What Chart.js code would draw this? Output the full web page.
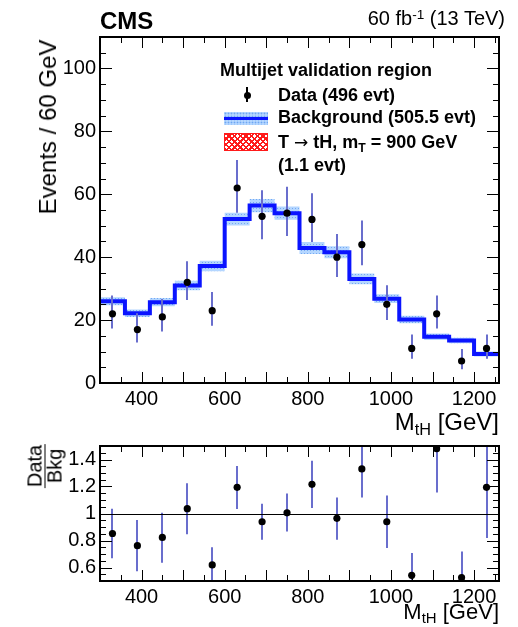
<!DOCTYPE html>
<html>
<head>
<meta charset="utf-8">
<script src="https://cdn.jsdelivr.net/npm/chart.js@4/dist/chart.umd.min.js"></script>
<style>
    body { margin: 0; background: #fff; }
    #wrap { position: relative; width: 518px; height: 627px; font-family: "Liberation Sans", Arial, Helvetica, sans-serif; color: #000; }
    canvas { position: absolute; left: 0; }
    .txt { position: absolute; white-space: nowrap; }
    .sub { font-size: 0.68em; position: relative; top: 0.3em; }
    .sup { font-size: 0.68em; position: relative; top: -0.45em; }
    .leg { position: absolute; left: 278px; font-weight: bold; font-size: 18px; line-height: 18px; white-space: nowrap; }
    .arrow { font-family: "DejaVu Sans", sans-serif; font-weight: normal; font-size: 17px; }
</style>
</head>
<body>
<div id="wrap">
    <canvas id="main" width="518" height="410" style="top:0"></canvas>
    <canvas id="ratio" width="518" height="180" style="top:430px"></canvas>

    <div class="txt" style="left:100px; top:9px; font-size:24px; line-height:24px; font-weight:bold;">CMS</div>
    <div class="txt" style="right:13px; top:8px; font-size:20px; line-height:20px;">60 fb<span class="sup">-1</span> (13 TeV)</div>

    <div class="txt" style="left:48px; top:127px; font-size:24px; line-height:24px; transform: translate(-50%,-50%) rotate(-90deg);">Events / 60 GeV</div>
    <div class="txt" style="right:19px; top:410px; font-size:24px; line-height:24px;">M<span class="sub">tH</span> [GeV]</div>

    <div class="txt" style="left:45px; top:466px; font-size:20px; line-height:17px; text-align:center; transform: translate(-50%,-50%) rotate(-90deg);">
        <div style="border-bottom:1.5px solid #000; padding:0 1px 1px 1px;">Data</div>
        <div style="padding-top:1px;">Bkg</div>
    </div>
    <div class="txt" style="right:19px; top:601px; font-size:22px; line-height:22px;">M<span class="sub">tH</span> [GeV]</div>

    <!-- legend -->
    <div class="leg" style="left:220px; top:61px;">Multijet validation region</div>
    <div style="position:absolute; left:246px; top:87px; width:2px; height:15px; background:#000;"></div>
    <div style="position:absolute; left:243.5px; top:91.5px; width:7px; height:7px; border-radius:50%; background:#000;"></div>
    <div class="leg" style="top:86px;">Data (496 evt)</div>
    <div style="position:absolute; left:224px; top:112px; width:44px; height:13px; background-color:#b4d6ff; background-image: radial-gradient(circle, #6fa6f2 0.8px, transparent 1.1px); background-size:3px 3px;"></div>
    <div style="position:absolute; left:224px; top:117px; width:44px; height:3px; background:#0a14ff;"></div>
    <div class="leg" style="top:108px;">Background (505.5 evt)</div>
    <div style="position:absolute; left:224px; top:133px; width:42px; height:16px; border:1px solid #ff1a1a; background-color:#fff; background-image: repeating-linear-gradient(45deg, #ff1a1a 0 1.6px, transparent 1.6px 4px), repeating-linear-gradient(-45deg, #ff1a1a 0 1.6px, transparent 1.6px 4px);"></div>
    <div class="leg" style="top:133px;">T <span class="arrow">&rarr;</span> tH, m<span class="sub">T</span> = 900 GeV</div>
    <div class="leg" style="top:156px;">(1.1 evt)</div>
</div>

<script>
// bins of 60 GeV, left edges
const binEdges = [300, 360, 420, 480, 540, 600, 660, 720, 780, 840, 900, 960, 1020, 1080, 1140, 1200, 1260];
const binCenters = [330, 390, 450, 510, 570, 630, 690, 750, 810, 870, 930, 990, 1050, 1110, 1170, 1230];

// observed events and their (asymmetric) errors
const dataCounts = [22, 17, 21, 32, 23, 62, 53, 54, 52, 40, 44, 25, 11, 22, 7, 11];
const dataErrLow = [4.7, 4.1, 4.6, 5.6, 4.8, 7.9, 7.3, 7.3, 7.2, 6.3, 6.6, 5.0, 3.3, 4.7, 2.6, 3.3];
const dataErrHigh = [5.8, 5.2, 5.7, 6.7, 5.9, 8.9, 8.3, 8.4, 8.3, 7.4, 7.7, 6.1, 4.4, 5.8, 3.8, 4.4];

// background prediction and its uncertainty
const bkgValues = [26.0, 22.2, 25.7, 31.0, 37.2, 52.1, 56.4, 54.0, 42.9, 41.6, 33.1, 26.8, 20.2, 14.7, 13.5, 9.2];
const bkgUnc = [1.3, 1.2, 1.3, 1.5, 1.7, 2.0, 2.1, 2.1, 1.9, 1.9, 1.7, 1.4, 1.2, 1.0, 0.9, 0.8];

// data / background ratio
const ratioValues = [0.852, 0.762, 0.823, 1.036, 0.619, 1.194, 0.939, 1.005, 1.216, 0.964, 1.330, 0.939, 0.542, 1.48, 0.525, 1.194];
const ratioLow = [0.668, 0.573, 0.636, 0.847, 0.45, 1.034, 0.806, 0.867, 1.041, 0.806, 1.119, 0.745, 0.4, 1.155, 0.4, 0.818];
const ratioHigh = [1.036, 0.951, 1.005, 1.225, 0.75, 1.352, 1.073, 1.148, 1.39, 1.119, 1.6, 1.133, 0.707, 1.6, 0.719, 1.6];

// tick labels
const massTicks = [400, 600, 800, 1000, 1200];
const countTicks = [0, 20, 40, 60, 80, 100];
const ratioTicks = [0.6, 0.8, 1, 1.2, 1.4];

const FONT = '"Liberation Sans", Arial, Helvetica, sans-serif';
const errColor = 'rgb(105,110,205)';
const lineBlue = 'rgb(10,20,255)';

function stepPoints(vals) {
    const pts = vals.map((v, i) => ({ x: binEdges[i], y: v }));
    pts.push({ x: binEdges[binEdges.length - 1], y: vals[vals.length - 1] });
    return pts;
}

function bandPattern() {
    const c = document.createElement('canvas');
    c.width = 3; c.height = 3;
    const g = c.getContext('2d');
    g.fillStyle = '#b4d6ff';
    g.fillRect(0, 0, 3, 3);
    g.fillStyle = '#74a9f3';
    g.fillRect(1, 1, 1, 1);
    return g.createPattern(c, 'repeat');
}

// frame + inward ticks on all four sides, like ROOT
function frameTicks(xMinor, yMinor, yMajor, extra) {
    return {
        id: 'frameTicks',
        afterDraw(chart) {
            const { ctx, chartArea: a, scales } = chart;
            const xs = scales.x, ys = scales.y;
            ctx.save();
            ctx.strokeStyle = '#000';
            ctx.lineWidth = 1;
            ctx.beginPath();
            for (let v = Math.ceil(xs.min / xMinor) * xMinor; v <= xs.max; v += xMinor) {
                const px = Math.round(xs.getPixelForValue(v)) + 0.5;
                const len = v % 100 === 0 ? 11 : 6;
                ctx.moveTo(px, a.bottom); ctx.lineTo(px, a.bottom - len);
                ctx.moveTo(px, a.top); ctx.lineTo(px, a.top + len);
            }
            const n = Math.round((ys.max - ys.min) / yMinor);
            for (let i = 0; i <= n; i++) {
                const v = ys.min + i * yMinor;
                const py = Math.round(ys.getPixelForValue(v)) + 0.5;
                const isMajor = Math.abs(v / yMajor - Math.round(v / yMajor)) < 1e-6;
                const len = isMajor ? 12 : 6;
                ctx.moveTo(a.left, py); ctx.lineTo(a.left + len, py);
                ctx.moveTo(a.right, py); ctx.lineTo(a.right - len, py);
            }
            ctx.stroke();
            if (extra) extra(chart);
            ctx.lineWidth = 2;
            ctx.strokeRect(a.left, a.top, a.right - a.left, a.bottom - a.top);
            ctx.restore();
        }
    };
}

// vertical error bars drawn just before the point dataset
function errorBars(centers, lows, highs) {
    return {
        id: 'errorBars',
        beforeDatasetDraw(chart, args) {
            if (args.index !== 0) return;
            const { ctx, chartArea: a, scales } = chart;
            ctx.save();
            ctx.beginPath();
            ctx.rect(a.left, a.top, a.right - a.left, a.bottom - a.top);
            ctx.clip();
            ctx.strokeStyle = errColor;
            ctx.lineWidth = 2;
            ctx.beginPath();
            centers.forEach((c, i) => {
                const px = Math.round(scales.x.getPixelForValue(c));
                ctx.moveTo(px, scales.y.getPixelForValue(lows[i]));
                ctx.lineTo(px, scales.y.getPixelForValue(highs[i]));
            });
            ctx.stroke();
            ctx.restore();
        }
    };
}

function xScale(height) {
    return {
        type: 'linear',
        min: 300,
        max: 1260,
        grid: { display: false, drawTicks: false },
        border: { display: false },
        afterBuildTicks: s => { s.ticks = massTicks.map(v => ({ value: v })); },
        afterFit: s => { s.height = height; },
        ticks: { padding: 4, maxRotation: 0, color: '#000', font: { family: FONT, size: 20 }, callback: v => String(v) }
    };
}

Chart.defaults.animation = false;
Chart.defaults.responsive = false;

const pattern = bandPattern();

new Chart(document.getElementById('main'), {
    type: 'line',
    data: {
        datasets: [
            {
                label: 'Data',
                data: binCenters.map((x, i) => ({ x: x, y: dataCounts[i] })),
                showLine: false,
                pointRadius: 3.6,
                pointBackgroundColor: '#000',
                pointBorderWidth: 0,
                order: 0
            },
            {
                label: 'Background',
                data: stepPoints(bkgValues),
                stepped: true,
                borderColor: lineBlue,
                borderWidth: 4,
                pointRadius: 0,
                fill: false,
                order: 1
            },
            {
                label: 'bkg up',
                data: stepPoints(bkgValues.map((v, i) => v + bkgUnc[i])),
                stepped: true,
                borderWidth: 0,
                pointRadius: 0,
                fill: false,
                order: 3
            },
            {
                label: 'bkg down',
                data: stepPoints(bkgValues.map((v, i) => v - bkgUnc[i])),
                stepped: true,
                borderWidth: 0,
                pointRadius: 0,
                backgroundColor: pattern,
                fill: '-1',
                order: 2
            }
        ]
    },
    options: {
        layout: { padding: { top: 37, right: 19, left: 0, bottom: 0 } },
        plugins: { legend: { display: false }, tooltip: { enabled: false } },
        scales: {
            x: xScale(27),
            y: {
                min: 0,
                max: 110,
                grid: { display: false, drawTicks: false },
                border: { display: false },
                afterBuildTicks: s => { s.ticks = countTicks.map(v => ({ value: v })); },
                afterFit: s => { s.width = 100; },
                ticks: { padding: 4, color: '#000', font: { family: FONT, size: 20 } }
            }
        }
    },
    plugins: [frameTicks(50, 5, 20), errorBars(binCenters, dataCounts.map((v, i) => v - dataErrLow[i]), dataCounts.map((v, i) => v + dataErrHigh[i]))]
});

new Chart(document.getElementById('ratio'), {
    type: 'line',
    data: {
        datasets: [
            {
                label: 'Data/Bkg',
                data: binCenters.map((x, i) => ({ x: x, y: ratioValues[i] })),
                showLine: false,
                pointRadius: 3.6,
                pointBackgroundColor: '#000',
                pointBorderWidth: 0
            }
        ]
    },
    options: {
        layout: { padding: { top: 14, right: 19, left: 0, bottom: 0 } },
        plugins: { legend: { display: false }, tooltip: { enabled: false } },
        scales: {
            x: xScale(29),
            y: {
                min: 0.5,
                max: 1.5,
                grid: { display: false, drawTicks: false },
                border: { display: false },
                afterBuildTicks: s => { s.ticks = ratioTicks.map(v => ({ value: v })); },
                afterFit: s => { s.width = 100; },
                ticks: {
                    padding: 4, color: '#000', font: { family: FONT, size: 20 },
                    callback: v => String(Math.round(v * 10) / 10)
                }
            }
        }
    },
    plugins: [
        frameTicks(50, 0.05, 0.2, chart => {
            const { ctx, chartArea: a, scales } = chart;
            const py = Math.round(scales.y.getPixelForValue(1)) + 0.5;
            ctx.beginPath();
            ctx.lineWidth = 1;
            ctx.moveTo(a.left, py); ctx.lineTo(a.right, py);
            ctx.stroke();
        }),
        errorBars(binCenters, ratioLow, ratioHigh)
    ]
});
</script>
</body>
</html>
